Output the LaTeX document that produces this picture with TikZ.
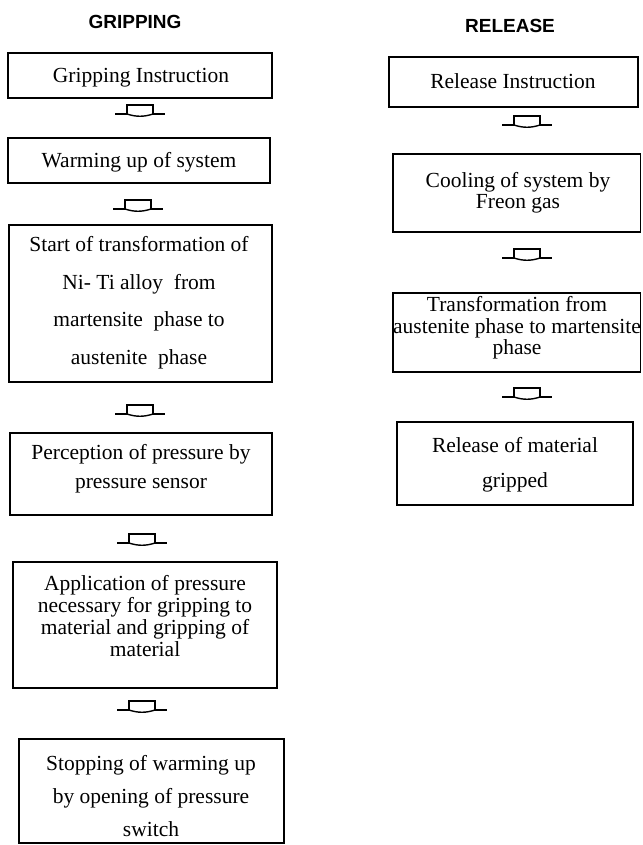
\documentclass[tikz,border=0pt]{standalone}
\usepackage{fontspec}
\setmainfont{Liberation Serif}
\setsansfont{Liberation Sans}
\begin{document}
\begin{tikzpicture}[x=1pt,y=-1pt,
  box/.style={draw, line width=1.5pt, inner sep=0pt},
  txt/.style={inner sep=0pt, align=center},
  ttl/.style={inner sep=0pt, font=\sffamily\bfseries\fontsize{19}{22}\selectfont},
  flowarr/.pic={
    \draw[line width=1.4pt] (-25,0) -- (-13,0) (13,0) -- (25,0);
    \draw[line width=1.4pt] (-13,0) -- (-13,-9) -- (13,-9) -- (13,0);
    \draw[line width=1.4pt] (-13,0) .. controls (-4,3) and (4,3) .. (13,0);
  }]
\useasboundingbox (0,0) rectangle (642,845);
\newcommand{\fs}[1]{\fontsize{21.5}{#1}\selectfont}

% titles
\node[ttl] (tg) at (135,21.5) {GRIPPING};
\node[ttl] (tr) at (510,25.5) {RELEASE};

% gripping boxes
\node[box, minimum width=264pt, minimum height=45pt] (g1) at (140,75.5) {};
\node[box, minimum width=262pt, minimum height=45pt] (g2) at (139,160.5) {};
\node[box, minimum width=263pt, minimum height=157pt] (g3) at (140.5,303.5) {};
\node[box, minimum width=262pt, minimum height=82pt] (g4) at (141,474) {};
\node[box, minimum width=264pt, minimum height=126pt] (g5) at (145,625) {};
\node[box, minimum width=265pt, minimum height=104pt] (g6) at (151.5,791) {};

\node[txt, font=\fs{25}] (g1t) at (141,78) {Gripping Instruction};
\node[txt, font=\fs{25}] (g2t) at (139,162) {Warming up of system};
\node[txt, font=\fs{37.5}] (g3t) at (139,302.5) {Start of transformation of\\Ni- Ti alloy\ \ from\\martensite\ \ phase to\\austenite\ \ phase};
\node[txt, font=\fs{29.5}] (g4t) at (141,468.5) {Perception of pressure by\\pressure sensor};
\node[txt, font=\fs{21.7}] (g5t) at (145,616) {Application of pressure\\necessary for gripping to\\material and gripping of\\material};
\node[txt, font=\fs{33}] (g6t) at (151,796) {Stopping of warming up\\by opening of pressure\\switch};

% release boxes
\node[box, minimum width=249pt, minimum height=50pt] (r1) at (513.5,82) {};
\node[box, minimum width=247.5pt, minimum height=78pt] (r2) at (516.75,193) {};
\node[box, minimum width=247.5pt, minimum height=79pt] (r3) at (516.75,332.5) {};
\node[box, minimum width=236pt, minimum height=83pt] (r4) at (515,463.5) {};

\node[txt, font=\fs{25}] (r1t) at (513,81) {Release Instruction};
\node[txt, font=\fs{21}] (r2t) at (518,193) {Cooling of system by\\Freon gas};
\node[txt, font=\fs{21.5}] (r3t) at (517,328) {Transformation from\\austenite phase to martensite\\phase};
\node[txt, font=\fs{35}] (r4t) at (515,464.5) {Release of material\\gripped};

% flow arrows
\pic at (140,114) {flowarr};
\pic at (138,209) {flowarr};
\pic at (140,414) {flowarr};
\pic at (142,543) {flowarr};
\pic at (142,710) {flowarr};
\pic at (527,125) {flowarr};
\pic at (527,258) {flowarr};
\pic at (527,397) {flowarr};
\end{tikzpicture}
\end{document}
